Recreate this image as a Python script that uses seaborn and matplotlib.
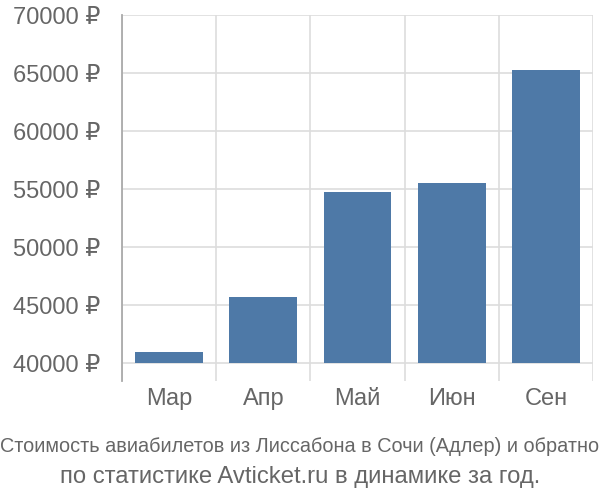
import matplotlib
matplotlib.use("Agg")
import matplotlib.pyplot as plt
import seaborn as sns
import pandas as pd
from matplotlib.ticker import FixedLocator, FuncFormatter
from matplotlib import font_manager

months = ["Мар", "Апр", "Май", "Июн", "Сен"]
prices = [40990, 45720, 54750, 55480, 65230]
yticks = [40000, 45000, 50000, 55000, 60000, 65000, 70000]
caption1 = "Стоимость авиабилетов из Лиссабона в Сочи (Адлер) и обратно"
caption2 = "по статистике Avticket.ru в динамике за год."

base = 40000
y_min, y_max = 38450, 70000

sns.set_theme(style="white")
plt.rcParams["font.family"] = ["Liberation Sans", "DejaVu Sans"]

names = {f.name for f in font_manager.fontManager.ttflist}
narrow_ok = "Liberation Sans Narrow" in names

text_color = "#666666"
grid_color = "#dddddd"
bar_color = "#4e79a7"

df = pd.DataFrame({"month": months, "price": prices})
df["height"] = df["price"] - base

fig = plt.figure(figsize=(6, 5), dpi=100)
ax = fig.add_axes([122 / 600, 1 - 381 / 500, (593 - 122) / 600, (381 - 15) / 500])

sns.barplot(data=df, x="month", y="height", color=bar_color, saturation=1,
            width=0.72, bottom=base, ax=ax, zorder=3, linewidth=0)

ax.set_ylim(y_min, y_max)
ax.set_xlim(-0.5, len(months) - 0.5)
ax.yaxis.set_major_locator(FixedLocator(yticks))
ax.yaxis.set_major_formatter(FuncFormatter(lambda v, p: f"{int(v)} ₽"))
ax.xaxis.set_minor_locator(FixedLocator([i - 0.5 for i in range(len(months) + 1)]))

ax.grid(axis="y", which="major", color=grid_color, linewidth=1.2, zorder=0)
ax.grid(axis="x", which="minor", color=grid_color, linewidth=1.2, zorder=0)
ax.set_axisbelow(True)

for s in ["top", "right", "bottom"]:
    ax.spines[s].set_visible(False)
ax.spines["left"].set_color("#aaaaaa")
ax.spines["left"].set_linewidth(1.3)

ax.tick_params(axis="y", which="major", length=14.4, width=1.2, color=grid_color,
               labelsize=17, labelcolor=text_color, pad=1.5)
ax.tick_params(axis="x", which="both", length=0, labelsize=17,
               labelcolor=text_color, pad=5)
ax.set_xlabel("")
ax.set_ylabel("")

if narrow_ok:
    fig.text(0.5, 1 - 447 / 500, caption1, ha="center", va="center",
             fontsize=17.2, color=text_color,
             family=["Liberation Sans Narrow", "Liberation Sans", "DejaVu Sans"])
else:
    fig.text(0.5, 1 - 447 / 500, caption1, ha="center", va="center",
             fontsize=14.3, color=text_color)
fig.text(0.5, 1 - 477 / 500, caption2, ha="center", va="center",
         fontsize=17.2, color=text_color)

fig.savefig("out.png", dpi=100, facecolor="white")
